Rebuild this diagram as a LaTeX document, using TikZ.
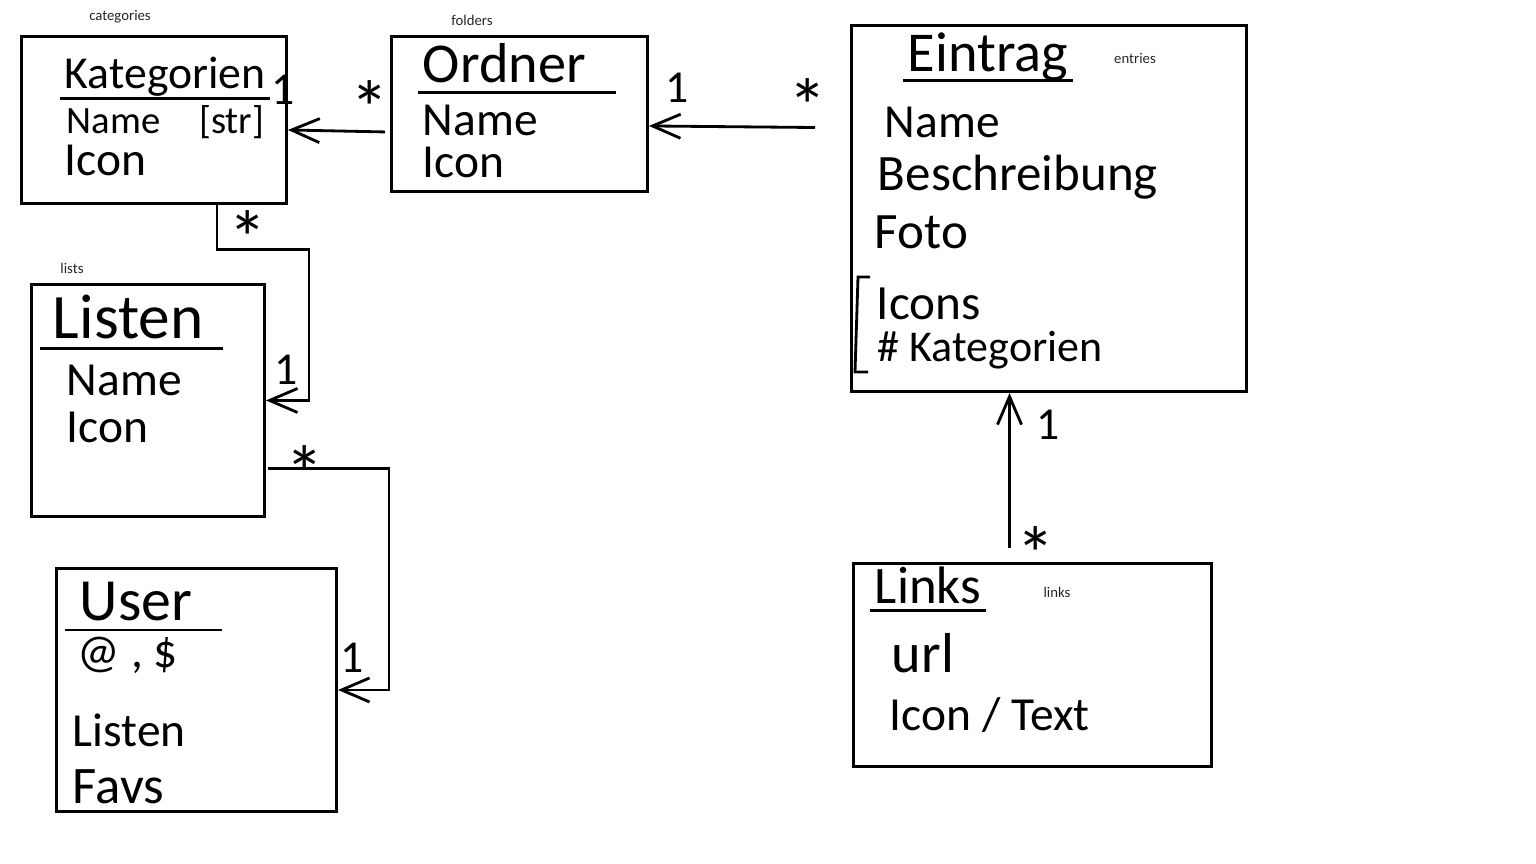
\documentclass[tikz,border=0pt]{standalone}
\usepackage{fontspec}
\setmainfont{Carlito}
\usetikzlibrary{arrows.meta,calc}

\tikzset{
  box/.style={draw, thick, anchor=north west, inner sep=0pt},
  title/.style={anchor=west, inner sep=1pt, font=\fontsize{16}{18}\selectfont},
  attr/.style={anchor=west, inner sep=1pt, font=\fontsize{13.5}{16}\selectfont},
  tag/.style={inner sep=0pt, text=black!85, font=\fontsize{4.2}{5}\selectfont},
  mult/.style={inner sep=0pt, font=\fontsize{13}{14}\selectfont},
  star/.style={inner sep=0pt, yshift=-0.14cm, font=\fontsize{22}{22}\selectfont},
  conn/.style={thick, -{Straight Barb[length=0.28cm,width=0.24cm]}},
}

\begin{document}
\begin{tikzpicture}[x=0.01cm, y=-0.01cm, thick]
\useasboundingbox (0,0) rectangle (1536,864);

% tables
\node[box, minimum width=2.65cm, minimum height=1.67cm] (kat) at (20,35) {};
\node[box, minimum width=2.56cm, minimum height=1.55cm] (ord) at (390,35) {};
\node[box, minimum width=3.95cm, minimum height=3.66cm] (ein) at (850,24) {};
\node[box, minimum width=2.33cm, minimum height=2.32cm] (lis) at (30,283) {};
\node[box, minimum width=2.80cm, minimum height=2.43cm] (usr) at (55,567) {};
\node[box, minimum width=3.58cm, minimum height=2.03cm] (lnk) at (852,562) {};

% small labels
\node[tag] (katTag) at (120,17) {categories};
\node[tag] (ordTag) at (472,20) {folders};
\node[tag] (einTag) at (1135,58) {entries};
\node[tag] (lisTag) at (72,268) {lists};
\node[tag] (lnkTag) at (1057,592) {links};

% Kategorien
\node[title, font=\fontsize{13}{15}\selectfont] (katT) at (60,77) {Kategorien};
\draw ([yshift=-0.1cm]katT.base west) -- ([yshift=-0.1cm]katT.base east);
\node[attr, font=\fontsize{11}{13}\selectfont] (katName) at (62,122) {Name\quad[str]};
\node[attr] (katIcon) at (60,160) {Icon};

% Ordner
\node[title] (ordT) at (418,63) {Ordner};
\draw ([yshift=-0.1cm]ordT.base west) -- ([yshift=-0.1cm,xshift=0.25cm]ordT.base east);
\node[attr] (ordName) at (418,120) {Name};
\node[attr] (ordIcon) at (418,162) {Icon};

% Eintrag
\node[title] (einT) at (903,57) {Eintrag};
\draw ([yshift=-0.09cm]einT.base west) -- ([yshift=-0.09cm]einT.base east);
\node[attr] (einName) at (880,122) {Name};
\node[attr, font=\fontsize{14.5}{16}\selectfont] (einDesc) at (873,177) {Beschreibung};
\node[attr, font=\fontsize{14.5}{16}\selectfont] (einFoto) at (870,232) {Foto};
\node[attr, font=\fontsize{14}{16}\selectfont] (einIcons) at (872,304) {Icons};
\node[attr, font=\fontsize{12.5}{14}\selectfont] (einKat) at (873,350) {\# Kategorien};
\draw (870,277) -- (858,277) -- (855,372) -- (868,372);

% Listen
\node[title, font=\fontsize{18}{20}\selectfont] (lisT) at (48,317) {Listen};
\draw ([yshift=-0.1cm,xshift=-0.08cm]lisT.base west) -- ([yshift=-0.1cm,xshift=0.15cm]lisT.base east);
\node[attr] (lisName) at (62,380) {Name};
\node[attr] (lisIcon) at (62,427) {Icon};

% User
\node[title, font=\fontsize{17}{19}\selectfont] (usrT) at (75,602) {User};
\draw ([yshift=-0.09cm,xshift=-0.1cm]usrT.base west) -- ([yshift=-0.09cm,xshift=0.25cm]usrT.base east);
\node[attr] (usrMail) at (73,655) {@ , \$};
\node[attr] (usrLists) at (68,730) {Listen};
\node[attr, font=\fontsize{15}{17}\selectfont] (usrFavs) at (68,787) {Favs};

% Links
\node[title, font=\fontsize{15}{17}\selectfont] (lnkT) at (870,585) {Links};
\draw ([yshift=-0.07cm]lnkT.base west) -- ([yshift=-0.07cm]lnkT.base east);
\node[attr, font=\fontsize{16}{18}\selectfont] (lnkUrl) at (887,653) {url};
\node[attr] (lnkIcon) at (885,715) {Icon / Text};

% relations
\draw[conn] ($(ord.west)+(-5,18)$) -- ($(kat.east)+(0,10)$);
\node[mult] (ordKatOne) at (283,90) {1};
\node[star] (ordKatMany) at (370,94) {*};

\draw[conn] ($(ein.west)+(-35,-81)$) -- ($(ord.east)+(0,12)$);
\node[mult] (einOrdOne) at (677,88) {1};
\node[star] (einOrdMany) at (808,92) {*};

\draw[conn] ($(kat.south)+(63,0)$) -- ++(0,45) -| ($(lis.east)+(43,0)$) -- (lis.east);
\node[star] (katLisMany) at (248,224) {*};
\node[mult] (katLisOne) at (286,370) {1};

\draw[conn] ($(lis.east)+(2,68)$) -- ++(121,0) |- (usr.east);
\node[star] (lisUsrMany) at (305,459) {*};
\node[mult] (lisUsrOne) at (352,658) {1};

\coordinate (lnkTop) at ($(lnk.north)+(-23,-14)$);
\draw[conn] (lnkTop) -- (lnkTop |- ein.south);
\node[mult] (lnkEinOne) at (1048,425) {1};
\node[star] (lnkEinMany) at (1036,540) {*};

\end{tikzpicture}
\end{document}
